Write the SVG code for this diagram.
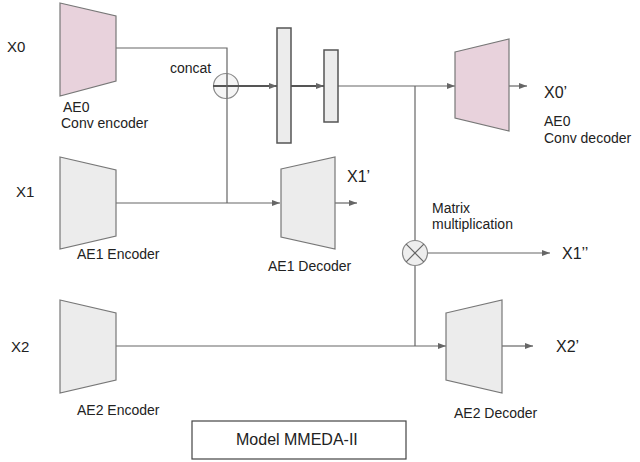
<svg xmlns="http://www.w3.org/2000/svg" width="640" height="462" viewBox="0 0 640 462">
<defs>
<marker id="ah" viewBox="0 0 8 6" refX="8" refY="3" markerWidth="8" markerHeight="6" markerUnits="userSpaceOnUse" orient="auto">
<path d="M0,0 L8,3 L0,6 Z" fill="#666"/>
</marker>
<style>
text{font-family:"Liberation Sans",Arial,sans-serif;fill:#222;}
.lbl{font-size:14px;}
.x{font-size:15px;}
.xp{font-size:16px;}
.gray{fill:#ececec;stroke:#777;stroke-width:1.2;}
.pink{fill:#e8d2dc;stroke:#777;stroke-width:1.2;}
.bar{fill:#ececec;stroke:#555;stroke-width:1.5;}
.ln{fill:none;stroke:#666;stroke-width:1.2;}
.thick{fill:none;stroke:#555;stroke-width:2;}
.op{fill:#eeeeee;stroke:#888;stroke-width:1.2;}
</style>
</defs>
<rect width="640" height="462" fill="#fff"/>

<g id="connectors">
<path class="ln" d="M116,48 H227 V203"/>
<path class="ln" d="M116,203 H280" marker-end="url(#ah)"/>
<path class="thick" d="M213,86 H277" marker-end="url(#ah)"/>
<path class="thick" d="M291,86 H324" marker-end="url(#ah)"/>
<path class="ln" d="M338,86 H455" marker-end="url(#ah)"/>
<path class="ln" d="M509,86 H527" marker-end="url(#ah)"/>
<path class="ln" d="M335,203 H357" marker-end="url(#ah)"/>
<path class="ln" d="M415,86 V241"/>
<path class="ln" d="M415,266 V346"/>
<path class="ln" d="M427,253 H550" marker-end="url(#ah)"/>
<path class="ln" d="M116,346 H446" marker-end="url(#ah)"/>
<path class="ln" d="M502,346 H533" marker-end="url(#ah)"/>
</g>

<g id="x0"><text class="x" x="7" y="52">X0</text></g>
<g id="x1"><text class="x" x="16" y="197">X1</text></g>
<g id="x2"><text class="x" x="11" y="352">X2</text></g>

<g id="ae0-encoder">
<polygon class="pink" points="60,3 116,16 116,81 60,96"/>
<text class="lbl" x="63" y="112">AE0</text>
<text class="lbl" x="61" y="128">Conv encoder</text>
</g>

<g id="ae1-encoder">
<polygon class="gray" points="60,157 116,170 116,236 60,249"/>
<text class="lbl" x="77" y="259">AE1 Encoder</text>
</g>

<g id="ae2-encoder">
<polygon class="gray" points="60,300 116,313 116,380 60,393"/>
<text class="lbl" x="77" y="415">AE2 Encoder</text>
</g>

<g id="concat">
<circle class="op" cx="226" cy="86" r="12.5" fill-opacity="0.6"/>
<path class="thick" d="M213,86 H239"/>
<path class="ln" d="M227,73.5 V98.5"/>
<text class="lbl" x="170" y="73">concat</text>
</g>

<g id="bar1"><rect class="bar" x="277" y="28" width="14" height="115"/></g>
<g id="bar2"><rect class="bar" x="324" y="50" width="14" height="72"/></g>

<g id="ae0-decoder">
<polygon class="pink" points="455,52 509,39 509,131 455,118"/>
<text class="xp" x="544" y="98">X0’</text>
<text class="lbl" x="544" y="126">AE0</text>
<text class="lbl" x="544" y="143">Conv decoder</text>
</g>

<g id="ae1-decoder">
<polygon class="gray" points="281,169 335,157 335,249 281,237"/>
<text class="xp" x="347" y="182">X1’</text>
<text class="lbl" x="268" y="271">AE1 Decoder</text>
</g>

<g id="matmul">
<circle class="op" cx="415" cy="253" r="12.5"/>
<path class="ln" d="M406.2,244.2 L423.8,261.8 M423.8,244.2 L406.2,261.8"/>
<text class="lbl" x="432" y="213">Matrix</text>
<text class="lbl" x="432" y="229">multiplication</text>
<text class="xp" x="562" y="259">X1’’</text>
</g>

<g id="ae2-decoder">
<polygon class="gray" points="446,313 502,300 502,393 446,380"/>
<text class="xp" x="556" y="352">X2’</text>
<text class="lbl" x="454" y="418">AE2 Decoder</text>
</g>

<g id="model-label">
<rect x="192" y="421" width="214" height="38" fill="#fff" stroke="#444" stroke-width="1.2"/>
<text x="236" y="445" font-size="16">Model MMEDA-II</text>
</g>
</svg>
